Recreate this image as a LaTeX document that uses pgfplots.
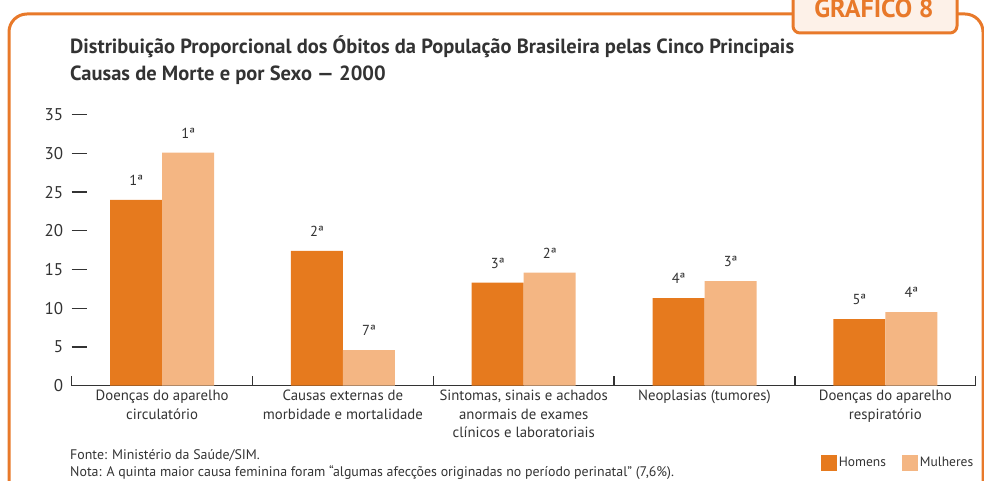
\documentclass[border=0pt]{standalone}
\usepackage{pgfplots}
\pgfplotsset{compat=1.18}
\usepackage{fontspec}
\setmainfont{PT Sans}
\definecolor{homens}{HTML}{E67A1E}
\definecolor{mulheres}{HTML}{F4B683}
\definecolor{frameor}{HTML}{E8792A}
\definecolor{tabfill}{HTML}{FDF1E8}
\definecolor{txt}{HTML}{333333}
\begin{document}
\begin{tikzpicture}[x=1pt,y=1pt]
\useasboundingbox (0,0) rectangle (984,481);
\begin{scope}
\clip (0,0) rectangle (984,481);
% outer frame
\draw[frameor, line width=3pt, rounded corners=18pt] (9,-20) rectangle (983,467);
% tab
\draw[frameor, line width=3pt, fill=tabfill, rounded corners=7pt] (793,500) rectangle (957,448);
\node[anchor=base, inner sep=0, text=frameor, font=\fontsize{26}{26}\selectfont\bfseries] at (874,463) {GRÁFICO 8};
\end{scope}
% title
\node[anchor=base west, inner sep=0, text=txt, font=\fontsize{20.5}{20.5}\selectfont\bfseries] at (70,427) {Distribuição Proporcional dos Óbitos da População Brasileira pelas Cinco Principais};
\node[anchor=base west, inner sep=0, text=txt, font=\fontsize{20.5}{20.5}\selectfont\bfseries] at (70,400) {Causas de Morte e por Sexo — 2000};
% footnotes
\node[anchor=base west, inner sep=0, text=txt, font=\fontsize{13.9}{13.9}\selectfont] at (70,21) {Fonte: Ministério da Saúde/SIM.};
\node[anchor=base west, inner sep=0, text=txt, font=\fontsize{13.9}{13.9}\selectfont] at (70,4) {Nota: A quinta maior causa feminina foram “algumas afecções originadas no período perinatal” (7,6\%).};
\begin{axis}[
  at={(71.7pt,95.3pt)}, anchor=south west,
  scale only axis, width=904pt, height=271pt,
  xmin=-0.5, xmax=4.5, ymin=0, ymax=35,
  ybar=0pt, bar width=52pt,
  axis x line=bottom, axis y line=left,
  x axis line style={-, line width=1.3pt, draw=txt},
  y axis line style={draw=none},
  tick align=inside,
  major tick length=15pt, minor tick length=10pt,
  ytick={0,5,...,35},
  ytick style={line width=1.3pt, draw=txt},
  xtick={0,...,4},
  minor xtick={-0.5,0.5,...,4.5},
  major x tick style={draw=none},
  minor x tick style={line width=1.3pt, draw=txt},
  xticklabels={{Doenças do aparelho\\circulatório},{Causas externas de\\morbidade e mortalidade},{Sintomas, sinais e achados\\anormais de exames\\clínicos e laboratoriais},{Neoplasias (tumores)},{Doenças do aparelho\\respiratório}},
  xticklabel style={align=center, text=txt, font=\fontsize{14.8}{18.5}\selectfont, yshift=-1pt},
  yticklabel style={text=txt, font=\fontsize{17}{17}\selectfont, xshift=-5pt},
  /pgf/number format/assume math mode=true,
  nodes near coords, point meta=explicit symbolic,
  every node near coord/.append style={text=txt, font=\fontsize{14.5}{14.5}\selectfont, yshift=11pt},
  legend columns=2,
  legend style={at={(1.003,-0.285)}, anchor=east, draw=none, fill=none, font=\fontsize{13.5}{13.5}\selectfont, text=txt, /tikz/every even column/.append style={column sep=14pt}},
  legend image code/.code={\fill[#1] (0pt,-8pt) rectangle (16pt,8pt);},
]
\addplot[fill=homens, draw=none] coordinates {(0,24.0) [1ª] (1,17.4) [2ª] (2,13.3) [3ª] (3,11.3) [4ª] (4,8.6) [5ª]};
\addplot[fill=mulheres, draw=none] coordinates {(0,30.1) [1ª] (1,4.6) [7ª] (2,14.6) [2ª] (3,13.5) [3ª] (4,9.5) [4ª]};
\legend{Homens, Mulheres}
\end{axis}
\end{tikzpicture}
\end{document}
